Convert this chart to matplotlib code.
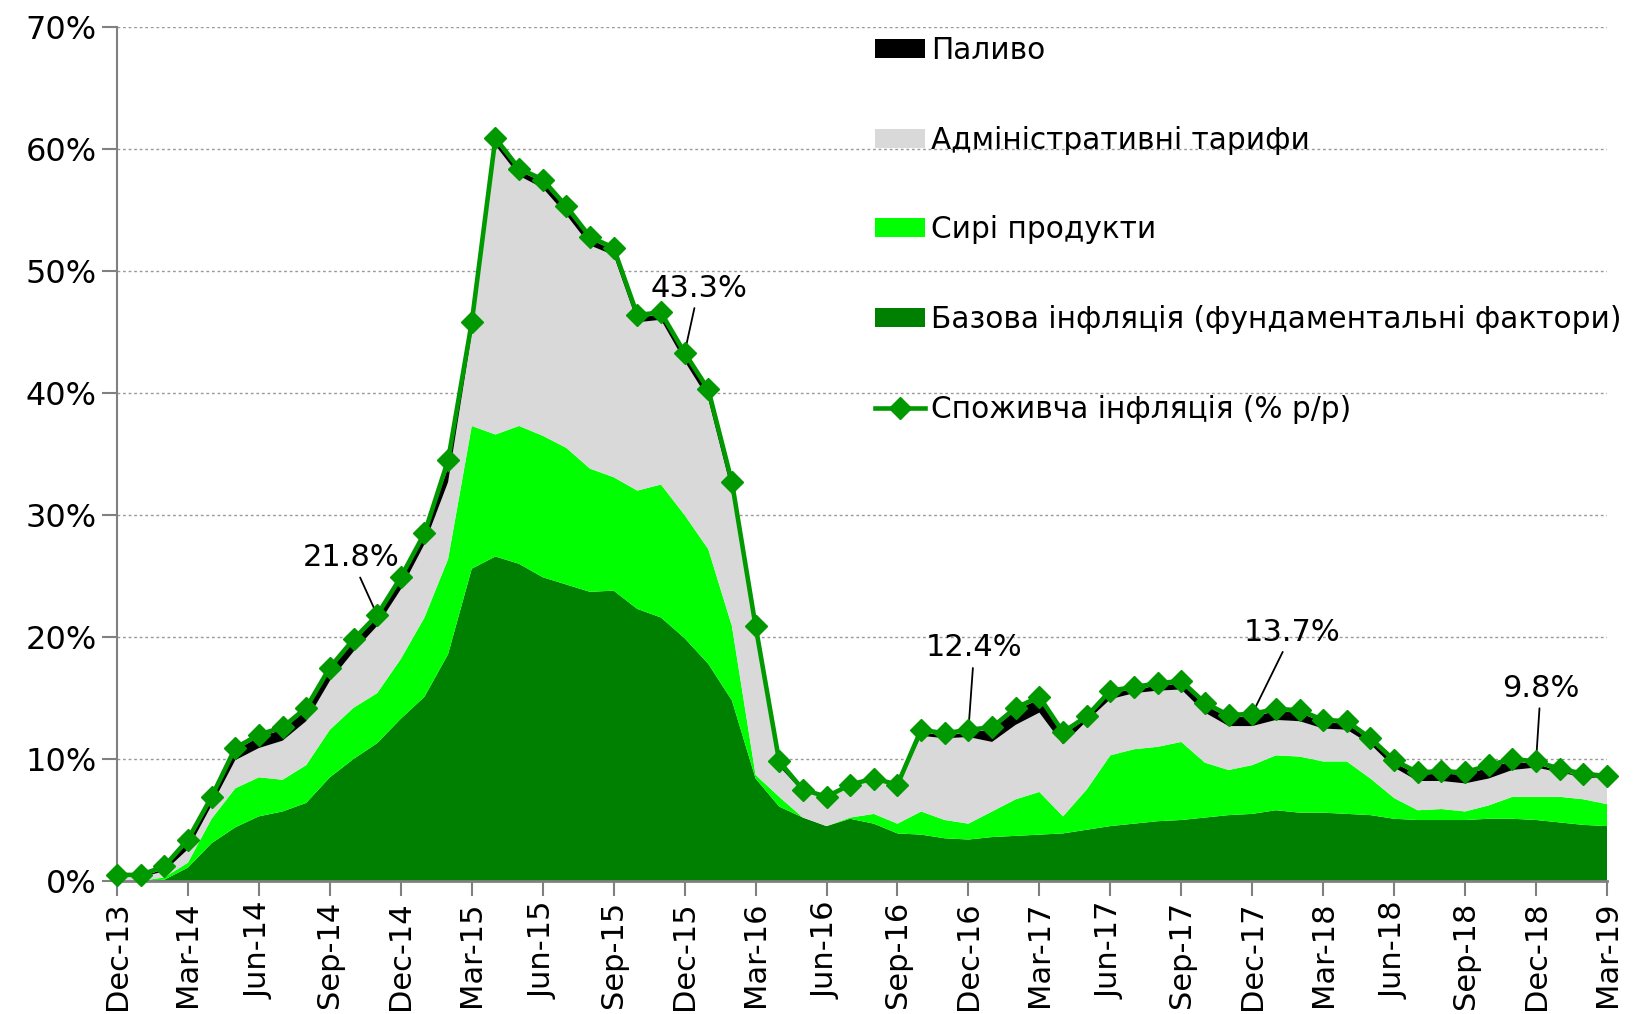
import numpy as np
import matplotlib.pyplot as plt

# monthly data, Dec-13 .. Mar-19, % y/y
months = ['Dec-13', 'Jan-14', 'Feb-14', 'Mar-14', 'Apr-14', 'May-14', 'Jun-14', 'Jul-14',
          'Aug-14', 'Sep-14', 'Oct-14', 'Nov-14', 'Dec-14', 'Jan-15', 'Feb-15', 'Mar-15',
          'Apr-15', 'May-15', 'Jun-15', 'Jul-15', 'Aug-15', 'Sep-15', 'Oct-15', 'Nov-15',
          'Dec-15', 'Jan-16', 'Feb-16', 'Mar-16', 'Apr-16', 'May-16', 'Jun-16', 'Jul-16',
          'Aug-16', 'Sep-16', 'Oct-16', 'Nov-16', 'Dec-16', 'Jan-17', 'Feb-17', 'Mar-17',
          'Apr-17', 'May-17', 'Jun-17', 'Jul-17', 'Aug-17', 'Sep-17', 'Oct-17', 'Nov-17',
          'Dec-17', 'Jan-18', 'Feb-18', 'Mar-18', 'Apr-18', 'May-18', 'Jun-18', 'Jul-18',
          'Aug-18', 'Sep-18', 'Oct-18', 'Nov-18', 'Dec-18', 'Jan-19', 'Feb-19', 'Mar-19']

cpi = [0.5, 0.5, 1.2, 3.4, 6.9, 10.9, 12.0, 12.6, 14.2, 17.5, 19.8, 21.8, 24.9, 28.5, 34.5, 45.8,
       60.9, 58.4, 57.5, 55.3, 52.8, 51.9, 46.4, 46.6, 43.3, 40.3, 32.7, 20.9, 9.8, 7.5, 6.9, 7.9,
       8.4, 7.9, 12.4, 12.1, 12.4, 12.6, 14.2, 15.1, 12.2, 13.5, 15.6, 15.9, 16.2, 16.4, 14.6, 13.6,
       13.7, 14.1, 14.0, 13.2, 13.1, 11.7, 9.9, 8.9, 9.0, 8.9, 9.5, 10.0, 9.8, 9.2, 8.8, 8.6]

core = [0.0, 0.0, 0.1, 1.1, 3.1, 4.4, 5.3, 5.7, 6.4, 8.5, 10.0, 11.3, 13.3, 15.1, 18.6, 25.6,
        26.6, 26.0, 24.9, 24.3, 23.7, 23.8, 22.3, 21.6, 19.9, 17.8, 14.8, 8.4, 6.1, 5.2, 4.5, 5.1,
        4.7, 3.9, 3.8, 3.5, 3.4, 3.6, 3.7, 3.8, 3.9, 4.2, 4.5, 4.7, 4.9, 5.0, 5.2, 5.4,
        5.5, 5.8, 5.6, 5.6, 5.5, 5.4, 5.1, 5.0, 5.0, 5.0, 5.1, 5.1, 5.0, 4.8, 4.6, 4.5]

raw_food = [0.0, 0.0, 0.2, 0.4, 2.0, 3.2, 3.2, 2.6, 3.1, 3.9, 4.2, 4.1, 4.9, 6.5, 7.8, 11.7,
            10.0, 11.3, 11.6, 11.2, 10.1, 9.3, 9.7, 10.9, 10.1, 9.4, 6.1, 0.3, 0.8, 0.0, 0.0, 0.1,
            0.8, 0.8, 1.9, 1.5, 1.3, 2.1, 3.0, 3.5, 1.4, 3.3, 5.8, 6.1, 6.1, 6.4, 4.5, 3.7,
            4.0, 4.5, 4.6, 4.2, 4.3, 3.0, 1.7, 0.8, 0.9, 0.7, 1.1, 1.8, 1.9, 2.1, 2.1, 1.8]

admin = [0.3, 0.3, 0.5, 1.1, 1.1, 2.3, 2.4, 3.2, 3.6, 4.0, 4.6, 5.5, 5.7, 6.0, 6.3, 7.6,
         23.7, 20.5, 20.3, 19.1, 18.3, 18.2, 13.8, 13.5, 12.6, 12.3, 11.0, 11.6, 2.5, 2.1, 2.2, 2.5,
         2.7, 3.0, 6.2, 6.7, 7.1, 5.7, 6.1, 6.5, 5.9, 5.6, 4.6, 4.6, 4.6, 4.3, 4.1, 3.6,
         3.2, 2.9, 2.9, 2.7, 2.6, 2.8, 2.5, 2.4, 2.3, 2.3, 2.2, 2.2, 2.4, 2.0, 1.8, 2.1]

fuel = [0.0, 0.0, 0.2, 0.6, 0.5, 0.8, 0.9, 0.9, 0.9, 0.9, 0.8, 0.7, 0.8, 0.7, 1.2, 0.7,
        0.4, 0.4, 0.5, 0.5, 0.5, 0.4, 0.4, 0.4, 0.5, 0.6, 0.6, 0.4, 0.2, 0.0, 0.0, 0.0,
        0.0, 0.0, 0.3, 0.2, 0.4, 1.0, 1.2, 1.1, 0.8, 0.2, 0.5, 0.3, 0.4, 0.5, 0.6, 0.7,
        0.8, 0.7, 0.7, 0.5, 0.5, 0.3, 0.4, 0.5, 0.6, 0.7, 0.9, 0.7, 0.3, 0.1, 0.1, 0.0]

# labelled points: month, text offset (months, pp)
labels = {'Nov-14': (-1.1, 4.7), 'Dec-15': (0.6, 5.3), 'Dec-16': (0.25, 6.7),
          'Dec-17': (1.7, 6.7), 'Dec-18': (0.2, 6.0)}

x = np.arange(len(months))

plt.rcParams['font.family'] = 'DejaVu Sans'
fig = plt.figure(figsize=(16.35, 10.14), dpi=100)
ax = fig.add_axes([117/1635, 1 - 881/1014, (1607 - 117)/1635, (881 - 27)/1014])

ax.stackplot(x, core, raw_food, admin, fuel,
             colors=['#008000', '#00ff00', '#d9d9d9', '#000000'], linewidth=0,
             labels=['Базова інфляція (фундаментальні фактори)', 'Сирі продукти',
                     'Адміністративні тарифи', 'Паливо'])
ax.plot(x, cpi, color='#009900', marker='D', markersize=11, linewidth=3.3,
        clip_on=False, zorder=5, label='Споживча інфляція (% р/р)')

for m, (dx, dy) in labels.items():
    i = months.index(m)
    ax.annotate('%.1f%%' % cpi[i], xy=(i, cpi[i]), xytext=(i + dx, cpi[i] + dy),
                fontsize=22, ha='center', va='center',
                arrowprops=dict(arrowstyle='-', color='black', lw=1.3, shrinkA=2, shrinkB=0))

ax.set_xlim(0, len(months) - 1)
ax.set_ylim(0, 70)
ax.set_xticks(x[::3])
ax.set_xticklabels(months[::3], rotation=90)
ax.set_yticks(np.arange(0, 71, 10))
ax.set_yticklabels(['%d%%' % v for v in range(0, 71, 10)])
ax.tick_params(axis='both', labelsize=22, length=11, width=1.5, color='#808080', direction='out')
ax.tick_params(axis='y', labelsize=23)
ax.grid(axis='y', linestyle=(0, (2, 2)), color='#999999', linewidth=1)
ax.set_axisbelow(True)
for s in ['top', 'right']:
    ax.spines[s].set_visible(False)
ax.spines['left'].set_color('#808080')
ax.spines['left'].set_linewidth(1.5)
ax.spines['bottom'].set_color('#808080')
ax.spines['bottom'].set_linewidth(2)

h, l = ax.get_legend_handles_labels()
order = [3, 2, 1, 0, 4]
fig.legend([h[k] for k in order], [l[k] for k in order], loc='upper left',
           bbox_to_anchor=(875/1635, 1 - 36/1014), frameon=False, fontsize=21.3,
           handlelength=1.7, handleheight=0.62, handletextpad=0.2, labelspacing=2.05,
           borderpad=0, borderaxespad=0)

fig.savefig('out.png', dpi=100)
